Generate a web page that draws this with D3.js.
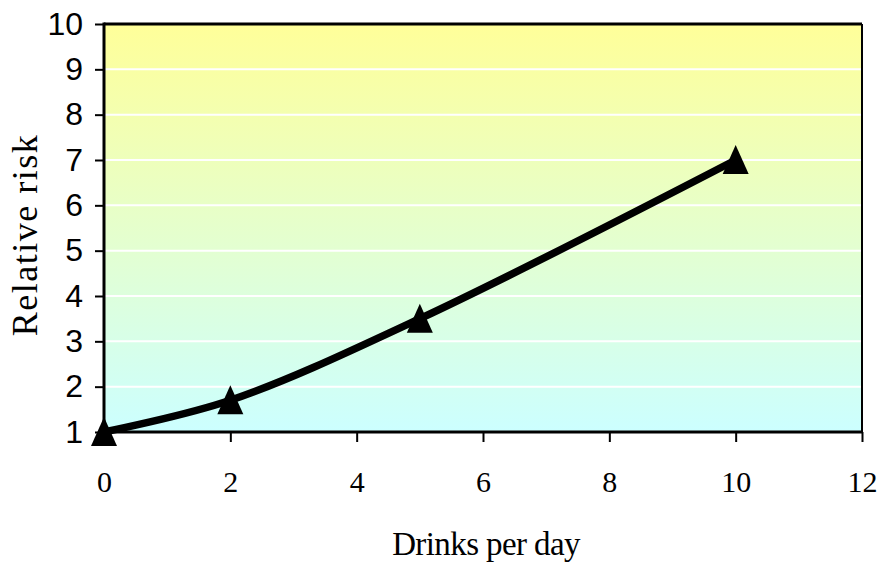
<!DOCTYPE html>
<html><head><meta charset="utf-8">
<script src="https://cdn.jsdelivr.net/npm/d3@7"></script>
<style>body{margin:0;background:#fff}</style>
</head><body>
<svg id="c" width="882" height="562"></svg>
<script>
const drinks = [0, 2, 5, 10];
const risk = [1, 1.7, 3.5, 7];
const xTicks = [0, 2, 4, 6, 8, 10, 12];
const yTicks = [1, 2, 3, 4, 5, 6, 7, 8, 9, 10];

const svg = d3.select("#c");
const L = 104, R = 862, T = 24, B = 432;
const x = d3.scaleLinear().domain([0, 12]).range([L, R]);
const y = d3.scaleLinear().domain([1, 10]).range([B, T]);

const defs = svg.append("defs");
const g = defs.append("linearGradient").attr("id", "bg").attr("x1", 0).attr("y1", 0).attr("x2", 0).attr("y2", 1);
g.append("stop").attr("offset", "0%").attr("stop-color", "#FFFF99");
g.append("stop").attr("offset", "100%").attr("stop-color", "#CCFFFF");

svg.append("rect").attr("x", L).attr("y", T).attr("width", R - L).attr("height", B - T).attr("fill", "url(#bg)");

// gridlines
svg.append("g").selectAll("line").data(yTicks.filter(d => d > 1 && d < 10)).join("line")
  .attr("x1", L).attr("x2", R).attr("y1", d => y(d)).attr("y2", d => y(d))
  .attr("stroke", "#fff").attr("stroke-width", 2);

// borders
svg.append("line").attr("x1", L).attr("x2", R).attr("y1", T).attr("y2", T).attr("stroke", "#000").attr("stroke-width", 3);
svg.append("line").attr("x1", R).attr("x2", R).attr("y1", T).attr("y2", B).attr("stroke", "#000").attr("stroke-width", 2);

// axes
const yAxis = d3.axisLeft(y).tickValues(yTicks).tickSize(9).tickPadding(12);
const ya = svg.append("g").attr("transform", `translate(${L},0)`).call(yAxis);
ya.select(".domain").attr("stroke-width", 3).attr("d", `M0,${T-1.5}V${B+1.5}`);
ya.selectAll(".tick line").attr("stroke-width", 2);
ya.selectAll(".tick text").attr("font-family", "Liberation Sans, Arial, sans-serif").attr("font-size", 32).attr("fill", "#000");

const xAxis = d3.axisBottom(x).tickValues(xTicks).tickSize(10).tickPadding(29);
const xa = svg.append("g").attr("transform", `translate(0,${B})`).call(xAxis);
xa.select(".domain").attr("stroke-width", 3).attr("d", `M${L-1.5},0H${R+1}`);
xa.selectAll(".tick line").attr("stroke-width", 2);
xa.selectAll(".tick text").attr("font-family", "Liberation Serif, Times New Roman, serif").attr("font-size", 30).attr("fill", "#000");

// line
const data = drinks.map((d, i) => [d, risk[i]]);
const line = d3.line().x(d => x(d[0])).y(d => y(d[1])).curve(d3.curveCatmullRom.alpha(0.5));
svg.append("path").datum(data).attr("d", line).attr("fill", "none").attr("stroke", "#000").attr("stroke-width", 7.5).attr("stroke-linejoin", "round");

// markers
svg.append("g").selectAll("path").data(data).join("path")
  .attr("transform", d => `translate(${x(d[0])},${y(d[1])})`)
  .attr("d", "M0,-15L13,14L-13,14Z").attr("fill", "#000");

// titles
svg.append("text").attr("x", 486).attr("y", 555).attr("text-anchor", "middle")
  .attr("font-family", "Liberation Serif, Times New Roman, serif").attr("font-size", 33).attr("letter-spacing", -0.6).text("Drinks per day");
svg.append("text").attr("transform", `translate(37,235) rotate(-90)`).attr("text-anchor", "middle")
  .attr("font-family", "Liberation Serif, Times New Roman, serif").attr("font-size", 36).attr("letter-spacing", 1.5).text("Relative risk");
</script>
</body></html>
